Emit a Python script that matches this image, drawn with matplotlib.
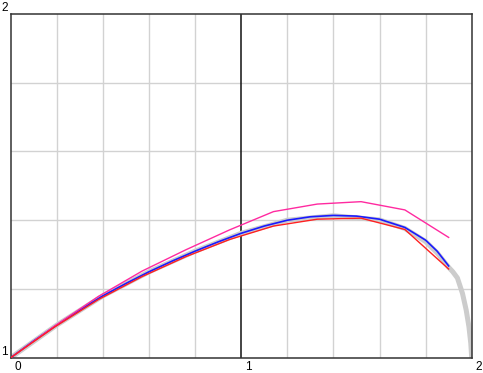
import matplotlib
matplotlib.use("Agg")
import matplotlib.pyplot as plt

# ---- data ----
steps_x = [0.0, 0.19, 0.38, 0.57, 0.76, 0.95, 1.14, 1.33, 1.52, 1.71, 1.90]
red_y = [1.0, 1.089, 1.169, 1.236, 1.294, 1.344, 1.383, 1.403, 1.406, 1.373, 1.258]
magenta_y = [1.0, 1.092, 1.178, 1.252, 1.314, 1.372, 1.425, 1.447, 1.454, 1.430, 1.350]

blue_x = [0.0, 0.1, 0.2, 0.3, 0.4, 0.5, 0.6, 0.7, 0.8, 0.9, 1.0, 1.1, 1.2,
          1.3, 1.4, 1.5, 1.6, 1.71, 1.8, 1.85, 1.90]
blue_y = [1.0, 1.049, 1.095, 1.139, 1.180, 1.216, 1.250, 1.281, 1.310, 1.337, 1.362,
          1.383, 1.400, 1.410, 1.414, 1.412, 1.403, 1.379, 1.342, 1.310, 1.267]

gray_x = [0.0, 0.2, 0.4, 0.6, 0.8, 1.0, 1.2, 1.4, 1.6, 1.71, 1.8, 1.85,
          1.90, 1.918, 1.938, 1.96, 1.976, 1.988, 1.996, 2.0]
gray_y = [1.0, 1.095, 1.180, 1.250, 1.310, 1.362, 1.400, 1.413, 1.401, 1.376,
          1.338, 1.305, 1.263, 1.250, 1.232, 1.187, 1.139, 1.090, 1.042, 1.0]

x_ticks = [0, 1, 2]
y_ticks = [1, 2]
grid_x = [0.2, 0.4, 0.6, 0.8, 1.2, 1.4, 1.6, 1.8]
grid_y = [1.2, 1.4, 1.6, 1.8]

plt.rcParams['font.family'] = ['Liberation Sans', 'DejaVu Sans']

fig = plt.figure(figsize=(4.83, 3.73), dpi=100)
ax = fig.add_axes([10.7 / 483, (373 - 357.7) / 373, (471.7 - 10.7) / 483, (357.7 - 14) / 373])
ax.set_xlim(0, 2)
ax.set_ylim(1, 2)

for gx in grid_x:
    ax.axvline(gx, color='#d2d2d2', lw=1.0, zorder=0)
for gy in grid_y:
    ax.axhline(gy, color='#d2d2d2', lw=1.0, zorder=0)
ax.axvline(1.0, color='#111111', lw=1.1, zorder=1)

ax.plot(gray_x, gray_y, color='#cccccc', lw=3.6, solid_capstyle='butt', zorder=2)
ax.plot(blue_x, blue_y, color='#1a1aff', lw=1.2, zorder=3)
ax.plot(steps_x, magenta_y, color='#ff2aa0', lw=1.0, zorder=4)
ax.plot(steps_x, red_y, color='#ff2020', lw=1.0, zorder=5)

ax.set_xticks([])
ax.set_yticks([])
for s in ax.spines.values():
    s.set_color('#333333')
    s.set_linewidth(1.1)

for t in x_ticks:
    ax.annotate(str(t), xy=(t, 1), xycoords='data', xytext=(4, -3),
                textcoords='offset pixels', ha='left', va='top', fontsize=8.5,
                annotation_clip=False)
for t in y_ticks:
    ax.annotate(str(t), xy=(0, t), xycoords='data', xytext=(-3, 3),
                textcoords='offset pixels', ha='right', va='baseline', fontsize=8.5,
                annotation_clip=False)

fig.savefig('out.png', dpi=100)
